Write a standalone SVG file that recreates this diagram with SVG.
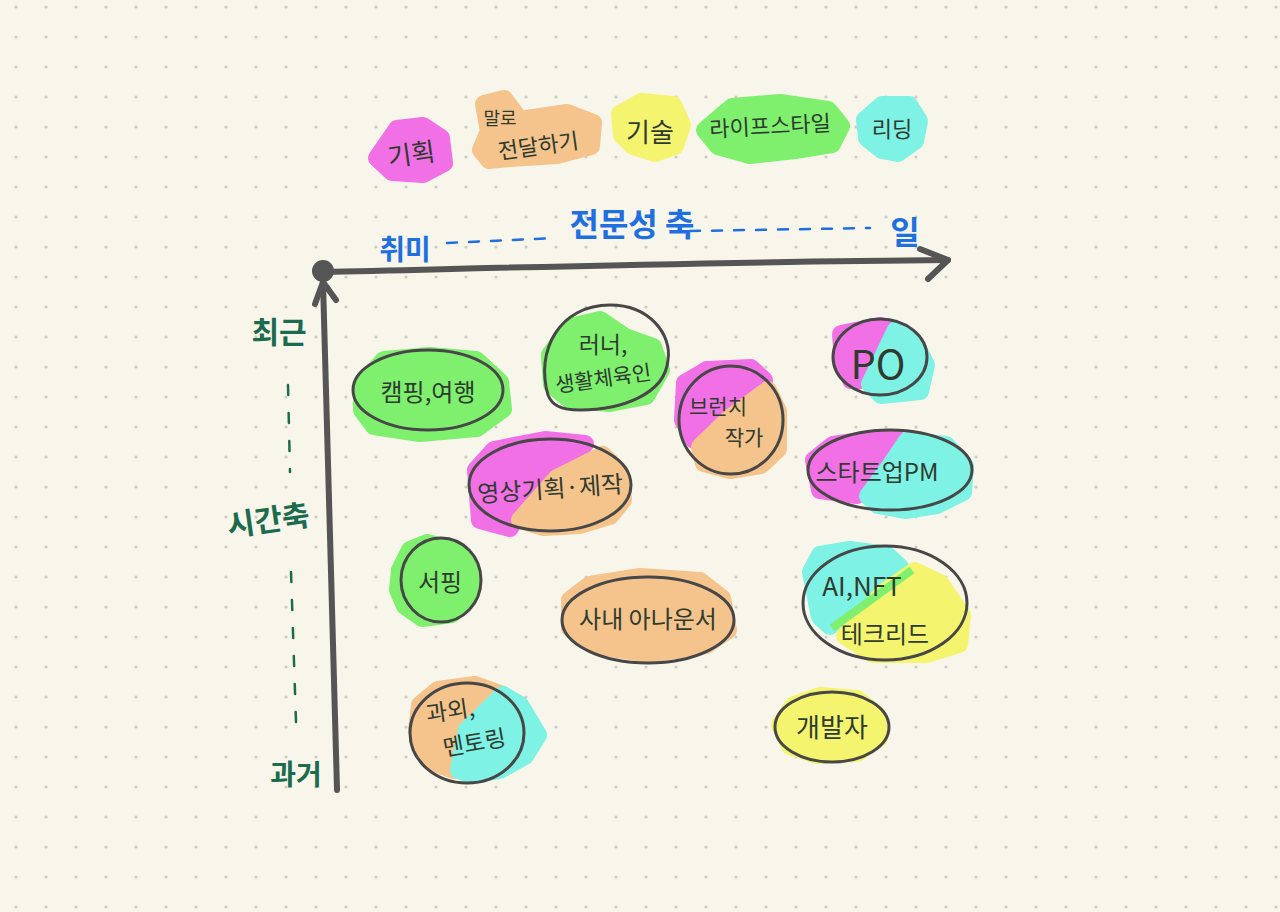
<svg xmlns="http://www.w3.org/2000/svg" width="1280" height="912" viewBox="0 0 1280 912">
<defs>
<pattern id="dots" patternUnits="userSpaceOnUse" x="1" y="-8" width="30" height="30">
<circle cx="15" cy="15" r="1.6" fill="#cccbc2"/>
</pattern>
</defs>
<style>
.blob{stroke-width:18;stroke-linejoin:round}
.mag{fill:#f270e6;stroke:#f270e6}
.ora{fill:#f5c48c;stroke:#f5c48c}
.yel{fill:#f4f46e;stroke:#f4f46e}
.grn{fill:#7ef06e;stroke:#7ef06e}
.cya{fill:#7ef2e4;stroke:#7ef2e4}
.ring{fill:none;stroke:#474747;stroke-width:3}
.t{font-family:"Noto Sans CJK KR","Noto Sans",sans-serif;fill:#2f3b2f;text-anchor:middle;dominant-baseline:central}
.blue{font-family:"Noto Sans CJK KR","Noto Sans",sans-serif;fill:#1f6fe0;text-anchor:middle;dominant-baseline:central;font-weight:bold}
.gr{font-family:"Noto Sans CJK KR","Noto Sans",sans-serif;fill:#1d6b4e;text-anchor:middle;dominant-baseline:central;font-weight:bold}
.axis{fill:none;stroke:#555;stroke-width:6;stroke-linecap:round;stroke-linejoin:round}
.bdash{fill:none;stroke:#1f6fe0;stroke-width:2.5;stroke-dasharray:10 12;stroke-linecap:round}
.gdash{fill:none;stroke:#1d6b4e;stroke-width:2.5;stroke-dasharray:10 18;stroke-linecap:round}
</style>
<rect width="1280" height="912" fill="#f8f6ea"/>
<rect width="1280" height="912" fill="url(#dots)"/>

<!-- legend -->
<g id="legend-planning">
<polygon class="blob mag" points="377,158 397,129 423,126 441,138 444,163 423,174 392,172"/>
<text class="t" x="411" y="152" font-size="26" transform="rotate(-8 411 152)">기획</text>
</g>
<g id="legend-speaking">
<polygon class="blob ora" points="484,104 504,99 520,120 567,113 593,123 591,146 557,155 510,158 489,160 481,150 489,131"/>
<text class="t" x="500" y="117" font-size="18">말로</text>
<text class="t" x="538" y="144" font-size="22" transform="rotate(-8 538 144)">전달하기</text>
</g>
<g id="legend-tech">
<polygon class="blob yel" points="620,114 641,102 673,105 682,125 675,146 655,153 633,146 622,135"/>
<text class="t" x="650" y="130" font-size="26">기술</text>
</g>
<g id="legend-lifestyle">
<polygon class="blob grn" points="705,130 732,107 780,103 828,110 841,126 832,144 795,150 750,155 718,146"/>
<text class="t" x="770" y="124" font-size="22" transform="rotate(-3 770 124)">라이프스타일</text>
</g>
<g id="legend-leading">
<polygon class="blob cya" points="865,120 882,105 909,105 919,121 915,141 898,153 882,150 867,138"/>
<text class="t" x="892" y="127" font-size="22">리딩</text>
</g>

<!-- axes -->
<g id="connectors">
<path class="axis" d="M323 272 C 500 268 700 262 948 260"/>
<path class="axis" d="M920 249 L948 260 L928 279"/>
<path class="axis" d="M337 790 C 333 620 328 450 323 282"/>
<path class="axis" d="M315 304 L323 282 L336 300"/>
<circle cx="323" cy="271" r="11" fill="#555"/>
<path class="bdash" d="M447 243 L555 238"/>
<path class="bdash" d="M690 231 L870 228"/>
<path class="gdash" d="M288 385 L290 472"/>
<path class="gdash" d="M291 572 L296 722"/>
</g>

<g id="axis-labels">
<text class="blue" x="405" y="248" font-size="28">취미</text>
<text class="blue" x="632" y="222" font-size="32">전문성 축</text>
<text class="blue" x="905" y="230" font-size="32">일</text>
<text class="gr" x="279" y="330" font-size="30">최근</text>
<text class="gr" x="268" y="518" font-size="30" transform="rotate(-8 268 518)">시간축</text>
<text class="gr" x="296" y="773" font-size="28">과거</text>
</g>

<!-- nodes -->
<g id="node-camping">
<polygon class="blob grn" points="362,385 384,360 430,356 476,360 500,382 503,409 477,428 420,433 374,426 362,410"/>
<ellipse class="ring" cx="428" cy="390" rx="75" ry="40"/>
<text class="t" x="428" y="390" font-size="24">캠핑,여행</text>
</g>
<g id="node-runner">
<polygon class="blob grn" points="550,355 570,327 600,320 625,337 653,347 661,370 646,396 610,403 570,400 552,385"/>
<path class="ring" d="M548 395 C 535 350 560 305 610 305 C 650 305 672 335 668 360 C 665 395 620 410 580 410 C 560 410 552 405 548 395 Z"/>
<text class="t" x="603" y="343" font-size="23">러너,</text>
<text class="t" x="603" y="377" font-size="21" transform="rotate(-8 603 377)">생활체육인</text>
</g>
<g id="node-brunch">
<polygon class="blob mag" points="685,383 707,370 751,368 764,380 760,395 720,427 694,440 683,420"/>
<polygon class="blob ora" points="700,447 731,417 768,390 778,411 778,449 761,465 730,470 704,463"/>
<ellipse class="ring" cx="731" cy="420" rx="52" ry="54"/>
<text class="t" x="718" y="405" font-size="21">브런치</text>
<text class="t" x="744" y="436" font-size="21">작가</text>
</g>
<g id="node-po">
<polygon class="blob mag" points="841,334 880,326 895,330 867,380 851,380 843,362"/>
<polygon class="blob cya" points="870,384 896,330 915,343 926,365 920,391 881,395"/>
<ellipse class="ring" cx="880" cy="357" rx="47" ry="38"/>
<text class="t" x="878" y="362" font-size="40">PO</text>
</g>
<g id="node-startup">
<polygon class="blob mag" points="814,460 833,445 880,438 898,440 877,470 857,495 820,490"/>
<polygon class="blob cya" points="868,496 890,466 907,441 946,445 965,466 963,492 937,505 905,510 878,505"/>
<ellipse class="ring" cx="890" cy="470" rx="82" ry="40"/>
<text class="t" x="877" y="470" font-size="24">스타트업PM</text>
</g>
<g id="node-video">
<polygon class="blob mag" points="476,470 494,450 545,440 585,444 552,473 520,510 510,528 480,520"/>
<polygon class="blob ora" points="520,520 557,478 603,455 620,472 623,500 610,516 580,525 543,527"/>
<ellipse class="ring" cx="550" cy="485" rx="81" ry="46"/>
<text class="t" x="550" y="487" font-size="24" transform="rotate(-4 550 487)">영상기획·제작</text>
</g>
<g id="node-surfing">
<polygon class="blob grn" points="400,570 410,550 427,543 457,550 472,572 469,597 452,614 422,618 405,606 398,590"/>
<ellipse class="ring" cx="441" cy="580" rx="40" ry="42"/>
<text class="t" x="440" y="580" font-size="24">서핑</text>
</g>
<g id="node-announcer">
<polygon class="blob ora" points="570,600 590,585 640,577 700,581 722,598 728,630 706,645 650,654 593,645 570,628"/>
<ellipse class="ring" cx="648" cy="620" rx="86" ry="43"/>
<text class="t" x="648" y="617" font-size="24">사내 아나운서</text>
</g>
<g id="node-techlead">
<polygon class="blob cya" points="811,572 820,555 850,550 887,555 900,567 863,595 830,626 820,617"/>
<polygon class="blob yel" points="845,636 883,593 915,571 940,583 962,615 959,644 927,654 873,654"/>
<path d="M832 628 L912 570" stroke="#7ef06e" stroke-width="8" fill="none"/>
<ellipse class="ring" cx="885" cy="603" rx="82" ry="57"/>
<text class="t" x="862" y="584" font-size="26">AI,NFT</text>
<text class="t" x="885" y="632" font-size="24">테크리드</text>
</g>
<g id="node-tutoring">
<polygon class="blob ora" points="420,705 438,690 475,685 500,694 467,726 454,770 428,760 417,730"/>
<polygon class="blob cya" points="459,770 467,730 503,695 520,705 538,735 525,756 500,770 471,775"/>
<ellipse class="ring" cx="467" cy="733" rx="57" ry="50"/>
<text class="t" x="450" y="709" font-size="23" transform="rotate(-8 450 709)">과외,</text>
<text class="t" x="474" y="741" font-size="23" transform="rotate(-10 474 741)">멘토링</text>
</g>
<g id="node-developer">
<polygon class="blob yel" points="780,725 794,705 820,696 857,699 877,715 879,738 857,753 817,755 790,746"/>
<ellipse class="ring" cx="832" cy="727" rx="57" ry="35"/>
<text class="t" x="832" y="725" font-size="26">개발자</text>
</g>
</svg>
